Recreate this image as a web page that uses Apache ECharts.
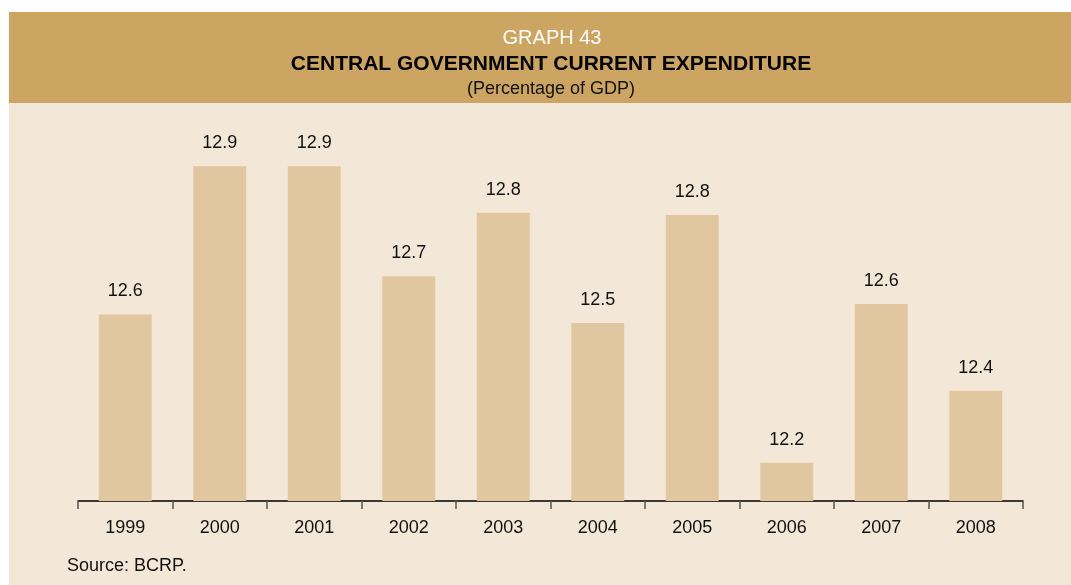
<!DOCTYPE html>
<html>
<head>
<meta charset="utf-8">
<style>
  html, body { margin: 0; padding: 0; background: #ffffff; }
  #chart { width: 1071px; height: 585px; }
</style>
<script src="https://cdn.jsdelivr.net/npm/echarts@6/dist/echarts.min.js"></script>
</head>
<body>
<div id="chart"></div>
<script>
// Central government current expenditure, % of GDP
const years = ['1999', '2000', '2001', '2002', '2003', '2004', '2005', '2006', '2007', '2008'];
const expenditure = [12.56, 12.91, 12.91, 12.65, 12.80, 12.54, 12.795, 12.21, 12.585, 12.38];

const chart = echarts.init(document.getElementById('chart'));

const font = 'Liberation Sans, Arial, sans-serif';

chart.setOption({
  backgroundColor: '#ffffff',
  animation: false,
  graphic: [
    { type: 'rect', z: -10, shape: { x: 9, y: 103, width: 1062, height: 482 }, style: { fill: '#F3E7D7' } },
    { type: 'rect', z: -10, shape: { x: 9, y: 12, width: 1062, height: 91 }, style: { fill: '#CCA562' } },
    { type: 'text', left: 67, top: 557, style: { text: 'Source: BCRP.', font: '18px ' + font, fill: '#111111' } }
  ],
  title: [
    { text: 'GRAPH 43', left: 547, top: 23, textAlign: 'center',
      textStyle: { color: '#ffffff', fontSize: 20, fontWeight: 'normal', fontFamily: font } },
    { text: 'CENTRAL GOVERNMENT CURRENT EXPENDITURE', left: 546, top: 49, textAlign: 'center',
      textStyle: { color: '#000000', fontSize: 21, fontWeight: 'bold', fontFamily: font } },
    { text: '(Percentage of GDP)', left: 546, top: 75, textAlign: 'center',
      textStyle: { color: '#111111', fontSize: 18, fontWeight: 'normal', fontFamily: font } }
  ],
  grid: { left: 78, right: 48, top: 128, bottom: 84 },
  xAxis: {
    type: 'category',
    data: years,
    axisLine: { lineStyle: { color: '#000000', width: 1.5 } },
    axisTick: { show: true, length: 8, lineStyle: { color: '#555555', width: 1.5 } },
    axisLabel: { color: '#111111', fontSize: 18, fontFamily: font, margin: 18 }
  },
  yAxis: {
    type: 'value',
    min: 12.12,
    max: 13.0,
    show: false,
    splitLine: { show: false }
  },
  series: [{
    type: 'bar',
    data: expenditure,
    barWidth: '56%',
    itemStyle: { color: '#E1C7A0' },
    label: {
      show: true,
      position: 'top',
      distance: 14,
      color: '#111111',
      fontSize: 18,
      fontFamily: font,
      formatter: p => p.value.toFixed(1)
    }
  }]
});
</script>
</body>
</html>
